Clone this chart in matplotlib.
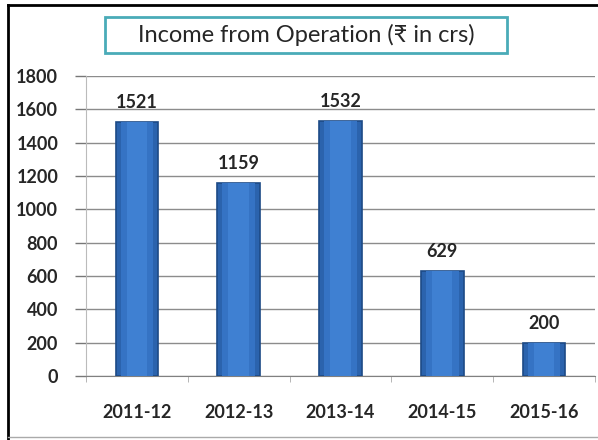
import matplotlib.pyplot as plt
from matplotlib.patches import Rectangle
from matplotlib.lines import Line2D

years = ["2011-12", "2012-13", "2013-14", "2014-15", "2015-16"]
income = [1521, 1159, 1532, 629, 200]
yticks = [0, 200, 400, 600, 800, 1000, 1200, 1400, 1600, 1800]

plt.rcParams["font.family"] = ["Lato", "DejaVu Sans"]

fig = plt.figure(figsize=(5.98, 4.40), dpi=100)
ax = fig.add_axes([0.1438, 0.1455, 0.851, 0.6818])

x = list(range(len(years)))
ax.bar(x, income, width=0.42, color="#2b63ad", edgecolor="#1d4a86",
       linewidth=1.2, zorder=3)
# lighter layers towards the middle, gives the rounded look
ax.bar(x, income, width=0.32, color="#3573c4", linewidth=0, zorder=4)
ax.bar(x, income, width=0.2, color="#3f80d2", linewidth=0, zorder=5)

for xi, v in zip(x, income):
    ax.annotate(str(v), (xi, v), xytext=(0, 8), textcoords="offset points",
                ha="center", va="bottom", fontsize=13, fontweight="bold",
                color="#262626")

ax.set_xlim(-0.5, len(years) - 0.5)
ax.set_ylim(0, 1800)
ax.set_yticks(yticks)
ax.set_yticklabels([str(t) for t in yticks], fontsize=13, fontweight="bold",
                   color="#262626")
ax.set_xticks(x)
ax.set_xticklabels(years, fontsize=13, fontweight="bold", color="#262626")
ax.tick_params(axis="x", length=0, pad=20)
ax.tick_params(axis="y", length=8, color="#777777", width=1, pad=12)
ax.set_xticks([i - 0.5 for i in range(len(years) + 1)], minor=True)
ax.tick_params(axis="x", which="minor", length=4, color="#aaaaaa")

ax.grid(axis="y", color="#8c8c8c", linewidth=1, zorder=0)
for s in ["top", "right"]:
    ax.spines[s].set_visible(False)
ax.spines["left"].set_color("#bbbbbb")
ax.spines["bottom"].set_color("#808080")

# title box
fig.patches.append(Rectangle((105 / 598, 1 - 53 / 440), 402 / 598, 36 / 440,
                             transform=fig.transFigure, facecolor="white",
                             edgecolor="#4aabb8", linewidth=2))
fig.text(306 / 598, 1 - 35 / 440, "Income from Operation (₹ in crs)",
         ha="center", va="center", fontsize=17, color="#262626",
         family=["Lato", "DejaVu Sans"])

# outer frame
fig.lines.append(Line2D([8 / 598, 8 / 598], [0, 1 - 5 / 440], color="black",
                        linewidth=2, transform=fig.transFigure))
fig.lines.append(Line2D([8 / 598, 1], [1 - 5 / 440, 1 - 5 / 440], color="black",
                        linewidth=2, transform=fig.transFigure))
fig.lines.append(Line2D([8 / 598, 1], [3 / 440, 3 / 440], color="#aaaaaa",
                        linewidth=1, transform=fig.transFigure))

fig.savefig("out.png", dpi=100)
